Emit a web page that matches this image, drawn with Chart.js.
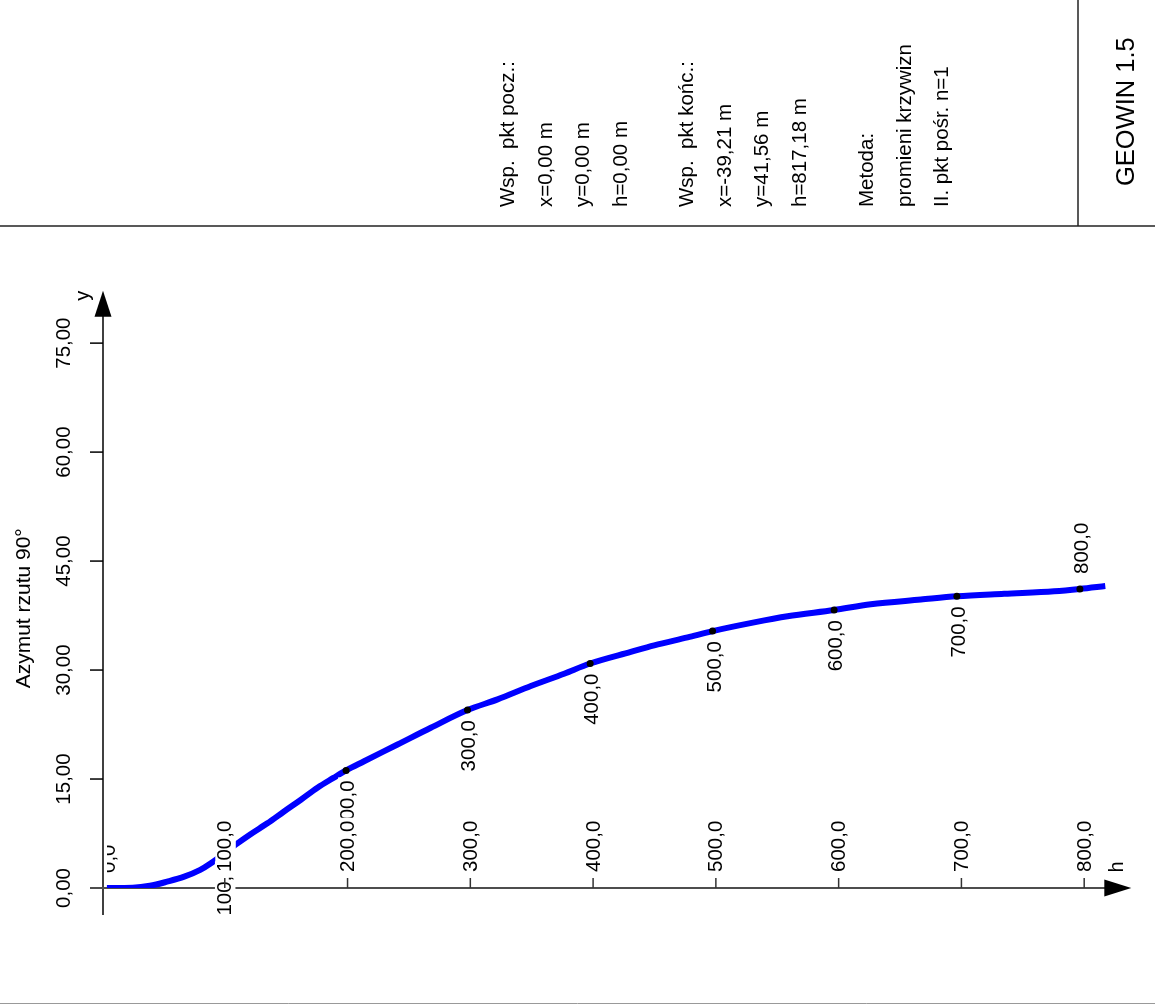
<!DOCTYPE html>
<html>
<head>
<meta charset="utf-8">
<title>Azymut rzutu 90°</title>
<script src="https://cdn.jsdelivr.net/npm/chart.js@4.4.1/dist/chart.umd.min.js"></script>
<style>
  html, body { margin: 0; padding: 0; background: #fff; }
  #wrap { width: 1155px; height: 1005px; }
</style>
</head>
<body>
<div id="wrap"><canvas id="chart" width="1155" height="1005"></canvas></div>
<script>
// profile curve (h [m] vs azimuth projection)
const curveH = [4, 25, 39, 53, 67, 80, 88.7, 98.5, 110.6, 121, 134.7, 148, 162, 175.5, 188.5, 198.8,
  213.5, 240.7, 267.8, 297.7, 322.2, 349.3, 376.4, 397.6, 430.7, 449.8, 477, 497.3, 531.2, 558.4,
  596.3, 626.2, 667, 696.3, 734.8, 775.5, 796.5, 817.18];
const curveAz = [0, 0.04, 0.3, 0.87, 1.56, 2.49, 3.4, 4.64, 6.17, 7.4, 8.9, 10.5, 12.15, 13.8, 15.15, 16.19,
  17.45, 19.75, 22.06, 24.49, 25.97, 27.8, 29.5, 30.9, 32.5, 33.4, 34.5, 35.36, 36.56, 37.4,
  38.26, 39.05, 39.7, 40.15, 40.5, 40.84, 41.16, 41.56];

// stations every 100 m
const stationH = [4, 98.5, 198.8, 297.7, 397.6, 497.3, 596.3, 696.3, 796.5];
const stationAz = [0, 4.64, 16.19, 24.49, 30.9, 35.36, 38.26, 40.15, 41.16];
const stationLabels = ["0,0", "100,0", "200,0", "300,0", "400,0", "500,0", "600,0", "700,0", "800,0"];

// axes
const hTicks = [100, 200, 300, 400, 500, 600, 700, 800];
const hTickLabels = ["100,0", "200,0", "300,0", "400,0", "500,0", "600,0", "700,0", "800,0"];
const azTicks = [0, 15, 30, 45, 60, 75];
const azTickLabels = ["0,00", "15,00", "30,00", "45,00", "60,00", "75,00"];
const yTitle = "Azymut rzutu 90°";

// header block
const headerGroups = [
  ["Wsp.  pkt pocz.:", "x=0,00 m", "y=0,00 m", "h=0,00 m"],
  ["Wsp.  pkt końc.:", "x=-39,21 m", "y=41,56 m", "h=817,18 m"],
  ["Metoda:", "promieni krzywizn", "II. pkt pośr. n=1"]
];
const programName = "GEOWIN 1.5";

const FONT = '"Liberation Sans", Arial, sans-serif';

// vertical text, reading bottom to top
function vText(ctx, str, x, y, align, size, box) {
  ctx.save();
  ctx.translate(x, y);
  ctx.rotate(-Math.PI / 2);
  ctx.font = size + 'px ' + FONT;
  ctx.textAlign = align;
  ctx.textBaseline = 'alphabetic';
  if (box) {
    const w = ctx.measureText(str).width;
    const x0 = align === 'right' ? -w : align === 'center' ? -w / 2 : 0;
    ctx.fillStyle = '#fff';
    ctx.fillRect(x0 - 3, -size * 0.78, w + 6, size * 1.0);
  }
  ctx.fillStyle = '#000';
  ctx.fillText(str, 0, 0);
  ctx.restore();
}

function line(ctx, x1, y1, x2, y2) {
  ctx.beginPath();
  ctx.moveTo(x1, y1);
  ctx.lineTo(x2, y2);
  ctx.stroke();
}

function tri(ctx, a, b, c) {
  ctx.beginPath();
  ctx.moveTo(a[0], a[1]);
  ctx.lineTo(b[0], b[1]);
  ctx.lineTo(c[0], c[1]);
  ctx.closePath();
  ctx.fill();
}

const drawingPlugin = {
  id: 'geowin',
  beforeDatasetsDraw(chart) {
    const ctx = chart.ctx;
    const xs = chart.scales.x, ys = chart.scales.y;
    const W = chart.width;
    ctx.save();

    // frame of the sheet
    ctx.strokeStyle = '#222';
    ctx.lineWidth = 1.5;
    line(ctx, 0, 226, W, 226);
    line(ctx, 1078, 0, 1078, 226);
    ctx.strokeStyle = '#999';
    ctx.lineWidth = 1;
    line(ctx, 0, 1003.5, W, 1003.5);

    // header
    const groupX = [514, 693, 873];
    headerGroups.forEach((g, gi) => {
      g.forEach((t, j) => vText(ctx, t, groupX[gi] + j * 37.5, 207, 'left', 20.5));
    });
    vText(ctx, programName, 1134, 186, 'left', 25.5);

    const x0 = xs.getPixelForValue(0);
    const y0 = ys.getPixelForValue(0);

    // y axis with arrow
    const tipY = ys.getPixelForValue(80) - 16;
    ctx.strokeStyle = '#000';
    ctx.fillStyle = '#000';
    ctx.lineWidth = 1.5;
    line(ctx, x0 + 1, tipY + 24, x0 + 1, y0 + 27);
    tri(ctx, [x0 + 1, tipY], [x0 - 7.5, tipY + 26], [x0 + 9.5, tipY + 26]);
    vText(ctx, 'y', x0 - 13, tipY + 5, 'center', 20);

    // y ticks + labels
    azTicks.forEach((v, i) => {
      const py = ys.getPixelForValue(v);
      line(ctx, x0 - 12, py, x0 + 1, py);
      vText(ctx, azTickLabels[i], x0 - 32, py, 'center', 20.5);
    });
    vText(ctx, yTitle, x0 - 72, ys.getPixelForValue(38.5), 'center', 21);

    // x axis with arrow
    const tipX = xs.getPixelForValue(840) - 2;
    ctx.strokeStyle = '#4d4d4d';
    ctx.lineWidth = 2;
    line(ctx, x0 - 12, y0, tipX - 25, y0);
    ctx.fillStyle = '#000';
    tri(ctx, [tipX, y0], [tipX - 27, y0 - 8.5], [tipX - 27, y0 + 8.5]);
    vText(ctx, 'h', tipX - 8, y0 - 21, 'center', 20);
    ctx.restore();
  },
  afterDatasetsDraw(chart) {
    const ctx = chart.ctx;
    const meta = chart.getDatasetMeta(1);
    const ca = chart.chartArea;
    ctx.save();
    ctx.beginPath();
    ctx.rect(ca.left + 5, 0, chart.width, chart.height);
    ctx.clip();
    meta.data.forEach((el, i) => {
      const above = i === 0 || i === meta.data.length - 1;
      if (above) vText(ctx, stationLabels[i], el.x + 8, el.y - 15, 'left', 20.5, true);
      else vText(ctx, stationLabels[i], el.x + 8, el.y + 10, 'right', 20.5, true);
    });
    ctx.restore();
  },
  afterDraw(chart) {
    const ctx = chart.ctx;
    const xs = chart.scales.x, ys = chart.scales.y;
    const y0 = ys.getPixelForValue(0);
    ctx.save();
    hTicks.forEach((v, i) => {
      const px = xs.getPixelForValue(v);
      vText(ctx, hTickLabels[i], px + 6.5, y0 - 16, 'left', 20.5, true);
      ctx.strokeStyle = '#333';
      ctx.lineWidth = 1.5;
      line(ctx, px, y0 - 10, px, y0);
    });
    ctx.restore();
  }
};

new Chart(document.getElementById('chart'), {
  type: 'scatter',
  data: {
    datasets: [
      {
        data: curveH.map((h, i) => ({ x: h, y: curveAz[i] })),
        showLine: true,
        borderColor: '#0000ff',
        borderWidth: 6,
        pointRadius: 0,
        cubicInterpolationMode: 'monotone',
        order: 2
      },
      {
        data: stationH.map((h, i) => ({ x: h, y: stationAz[i] })),
        showLine: false,
        pointRadius: c => c.dataIndex === 0 ? 0 : 3.5,
        backgroundColor: '#000',
        borderWidth: 0,
        order: 1
      }
    ]
  },
  options: {
    responsive: false,
    animation: false,
    layout: { padding: { left: 102, right: 21.7, top: 306.8, bottom: 117 } },
    plugins: { legend: { display: false }, tooltip: { enabled: false } },
    scales: {
      x: { type: 'linear', min: 0, max: 840, display: false },
      y: { type: 'linear', min: 0, max: 80, display: false }
    }
  },
  plugins: [drawingPlugin]
});
</script>
</body>
</html>
